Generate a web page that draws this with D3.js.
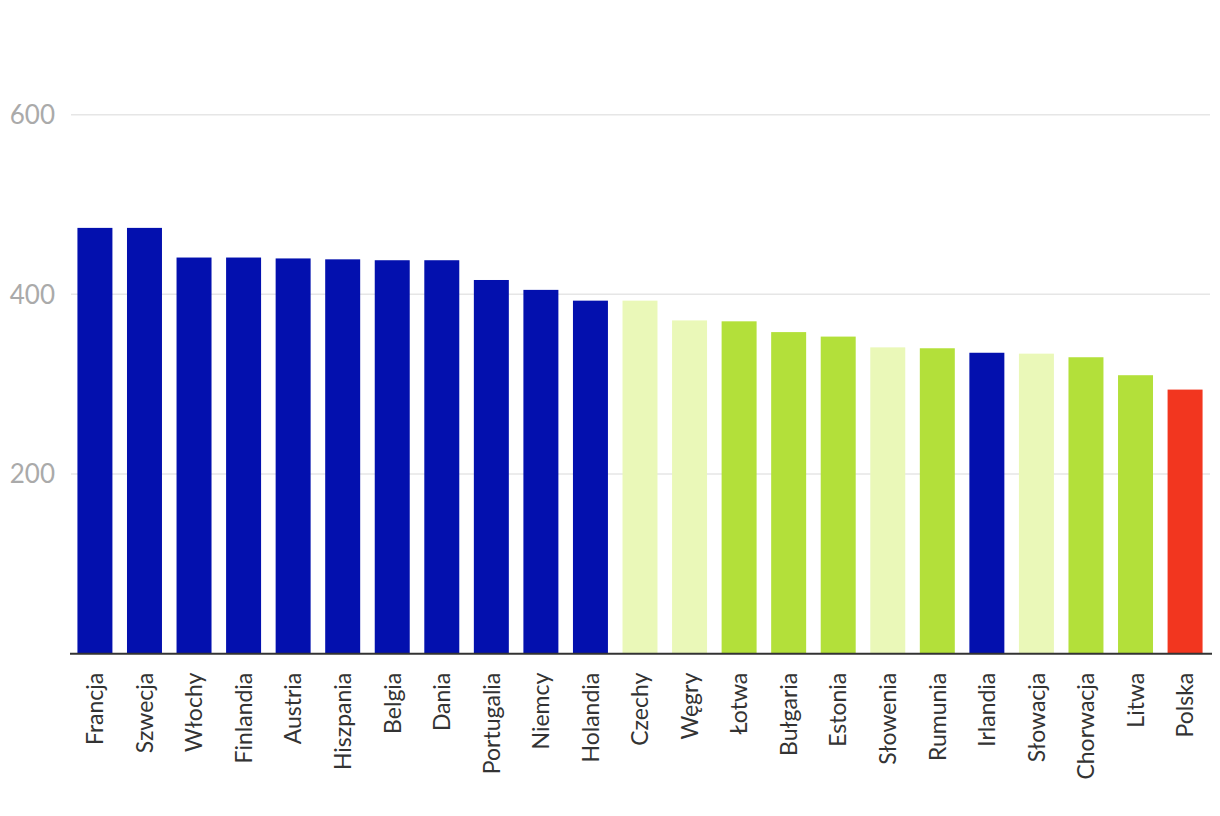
<!DOCTYPE html>
<html><head><meta charset="utf-8">
<script src="https://cdn.jsdelivr.net/npm/d3@7"></script>
<style>body{margin:0;background:#fff;}svg{display:block;}</style>
</head><body>
<svg id="c" width="1220" height="816"></svg>
<script>
const categories = ["Francja","Szwecja","Włochy","Finlandia","Austria","Hiszpania","Belgia","Dania","Portugalia","Niemcy","Holandia","Czechy","Węgry","Łotwa","Bułgaria","Estonia","Słowenia","Rumunia","Irlandia","Słowacja","Chorwacja","Litwa","Polska"];
const values = [474,474,441,441,440,439,438,438,416,405,393,393,371,370,358,353,341,340,335,334,330,310,294];
const groups = ["a","a","a","a","a","a","a","a","a","a","a","b","b","c","c","c","b","c","a","b","c","c","d"];
const yTicks = [200,400,600];
const groupColors = {a:"#0310AE", b:"#EAF8B8", c:"#B3E03A", d:"#F2361F"};

const svg = d3.select("#c");
const x = d3.scaleBand().domain(categories).range([70,1210]).paddingInner(0.294).paddingOuter(0.15);
const y = d3.scaleLinear().domain([0,600]).range([653.7,114.7]);

// gridlines
svg.append("g").selectAll("line").data(yTicks).join("line")
  .attr("x1",71).attr("x2",1210)
  .attr("y1",d=>y(d)).attr("y2",d=>y(d))
  .attr("stroke","#e6e6e6").attr("stroke-width",1.5);
svg.append("g").selectAll("text").data(yTicks).join("text")
  .attr("x",55).attr("y",d=>y(d)).attr("dy","0.36em")
  .attr("text-anchor","end").attr("fill","#aaaaaa")
  .attr("font-family","Lato").attr("font-size",26).text(d=>d);

// bars
svg.append("g").selectAll("rect").data(categories).join("rect")
  .attr("x",d=>x(d)).attr("width",x.bandwidth())
  .attr("y",(d,i)=>y(values[i])).attr("height",(d,i)=>y(0)-y(values[i]))
  .attr("fill",(d,i)=>groupColors[groups[i]]);

// x axis
const xa = svg.append("g").attr("transform",`translate(0,${y(0)})`).call(d3.axisBottom(x).tickSize(0).tickPadding(0));
xa.select(".domain").attr("stroke","#333").attr("stroke-width",2).attr("d","M70,0H1212");
xa.selectAll(".tick text")
  .attr("font-family","Lato").attr("font-size",23).attr("fill","#333")
  .attr("text-anchor","end").attr("transform","rotate(-90)")
  .attr("x",-19).attr("y",0).attr("dy","0.36em");
</script>
</body></html>
